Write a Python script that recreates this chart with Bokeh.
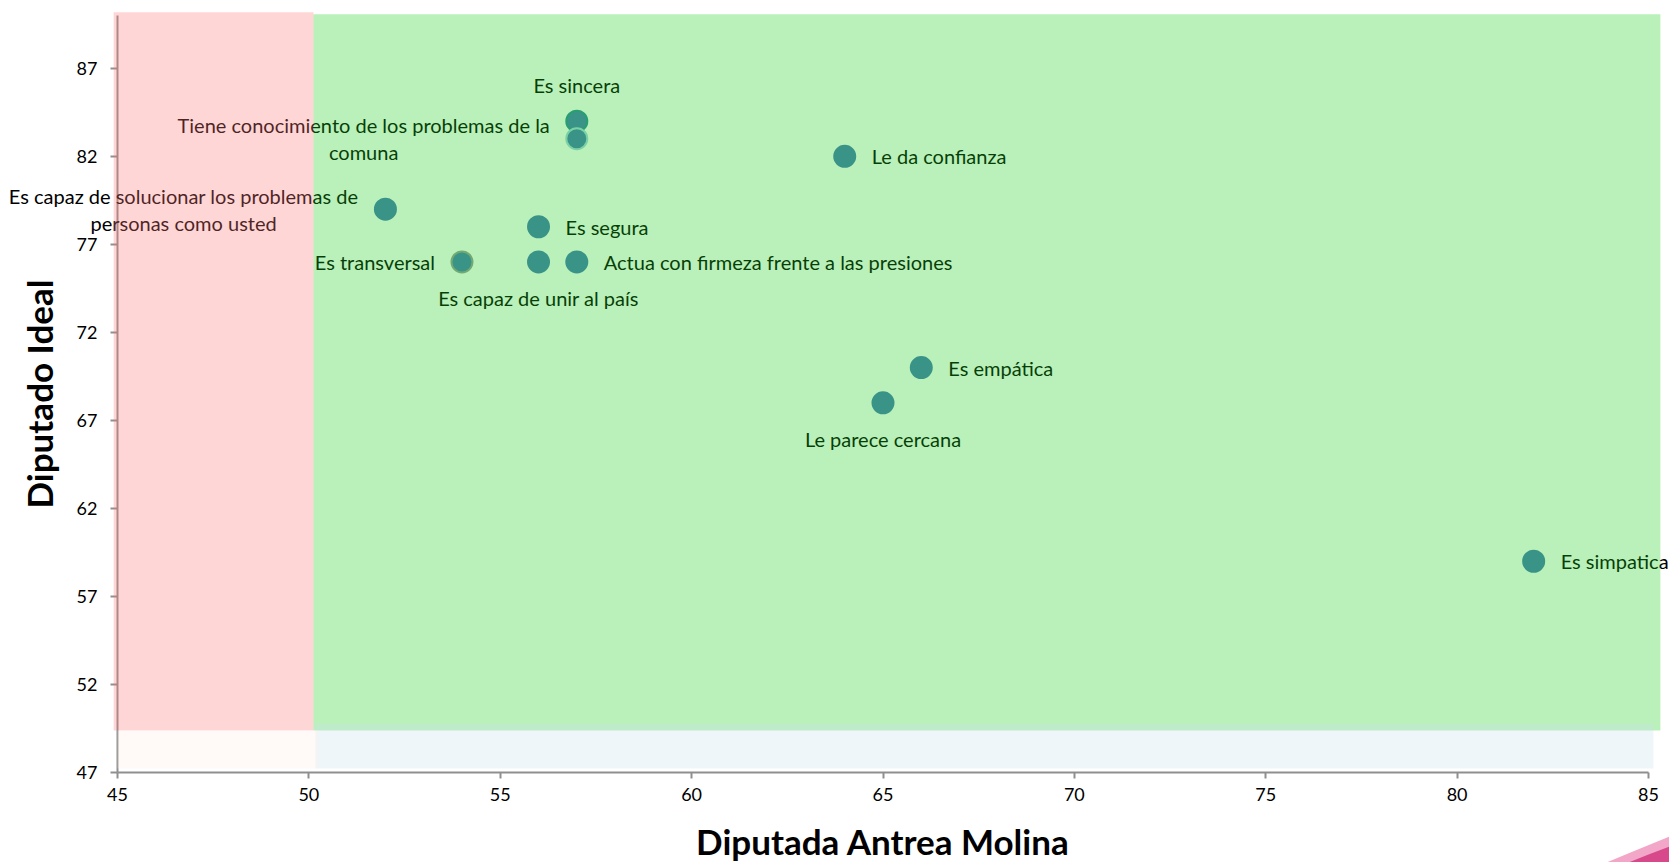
from bokeh.plotting import figure
from bokeh.models import Range1d, FixedTicker, BoxAnnotation, Label
from bokeh.embed import file_html
from bokeh.resources import INLINE

# ---------------- data ----------------
attributes = [
    "Es sincera",
    "Tiene conocimiento de los problemas de la\ncomuna",
    "Le da confianza",
    "Es capaz de solucionar los problemas de\npersonas como usted",
    "Es segura",
    "Es transversal",
    "Es capaz de unir al país",
    "Actua con firmeza frente a las presiones",
    "Es empática",
    "Le parece cercana",
    "Es simpatica",
]
diputada_molina = [57, 57, 64, 52, 56, 54, 56, 57, 66, 65, 82]
diputado_ideal = [84, 83, 82, 79, 78, 76, 76, 76, 70, 68, 59]
label_side = ["above", "left", "right", "left", "right", "left",
              "below", "right", "right", "below", "right"]

x_ticks = [45, 50, 55, 60, 65, 70, 75, 80, 85]
y_ticks = [47, 52, 57, 62, 67, 72, 77, 82, 87]
x_limits = (45, 85)
y_limits = (47, 90)

FONT = "Lato"
POINT = "#477CB6"
# marker outline styles (some markers carry a lighter / grey rim in the original)
outline_colors = ["#2F8A98", "#A6D2E2", POINT, POINT, POINT, "#9A9A9A",
                  POINT, POINT, POINT, POINT, POINT]

# ---------------- layout: the frame covers the whole canvas so that labels are
# never clipped; the axes are pinned at the data origin (45, 47)
W, H = 1669, 862
AX_LEFT, AX_RIGHT, AX_TOP, AX_BOTTOM = 117, 1648, 15, 772  # pixel positions of axis extents
sx = (AX_RIGHT - AX_LEFT) / (x_limits[1] - x_limits[0])
sy = (AX_BOTTOM - AX_TOP) / (y_limits[1] - y_limits[0])
x_range = Range1d(x_limits[0] - AX_LEFT / sx, x_limits[1] + (W - AX_RIGHT) / sx)
y_range = Range1d(y_limits[0] - (H - AX_BOTTOM) / sy, y_limits[1] + AX_TOP / sy)


def px_to_data(px, py):
    return x_limits[0] + (px - AX_LEFT) / sx, y_limits[0] + (AX_BOTTOM - py) / sy


p = figure(
    width=W, height=H, x_range=x_range, y_range=y_range,
    output_backend="svg", toolbar_location=None,
    min_border=0, min_border_left=0, min_border_right=0,
    min_border_top=0, min_border_bottom=0,
    background_fill_color="white", border_fill_color="white",
)
p.outline_line_color = None
p.grid.visible = False

for ax in (p.xaxis[0], p.yaxis[0]):
    ax.axis_line_color = "#8f8f8f"
    ax.axis_line_width = 2
    ax.major_tick_line_color = "#8f8f8f"
    ax.major_tick_line_width = 2
    ax.major_tick_in = 0
    ax.minor_tick_line_color = None
    ax.major_label_text_font = FONT
    ax.major_label_text_font_size = "18px"
    ax.major_label_text_color = "#000000"
    ax.axis_label_text_font = FONT
    ax.axis_label_text_font_size = "35px"
    ax.axis_label_text_font_style = "bold"
    ax.axis_label_text_color = "#000000"

p.xaxis.fixed_location = y_limits[0]
p.yaxis.fixed_location = x_limits[0]
p.xaxis.bounds = x_limits
p.yaxis.bounds = y_limits
p.xaxis.ticker = FixedTicker(ticks=x_ticks)
p.yaxis.ticker = FixedTicker(ticks=y_ticks)
p.xaxis.major_tick_out = 6
p.yaxis.major_tick_out = 7
p.xaxis.major_label_standoff = 9
p.yaxis.major_label_standoff = 13
p.xaxis.axis_label = "Diputada Antrea Molina"
p.yaxis.axis_label = "Diputado Ideal"
p.xaxis.axis_label_standoff = 16
p.yaxis.axis_label_standoff = 14

# ---------------- points ----------------
p.scatter(x=diputada_molina, y=diputado_ideal, size=21,
          fill_color=POINT, line_color=outline_colors, line_width=2)

# ---------------- labels ----------------
GAP = 27
VGAP = 35
for name, xv, yv, side in zip(attributes, diputada_molina, diputado_ideal, label_side):
    kw = dict(x=xv, y=yv, text=name, text_font=FONT, text_font_size="20px",
              text_color="#000000", text_line_height=1.12)
    if side == "right":
        kw.update(anchor="center_left", text_align="left", x_offset=GAP)
    elif side == "left":
        kw.update(anchor="center_right", text_align="center", x_offset=-GAP)
    elif side == "above":
        kw.update(anchor="center", text_align="center", y_offset=VGAP + 1)
    else:
        kw.update(anchor="center", text_align="center", y_offset=-VGAP - 1)
    p.add_layout(Label(**kw))

# ---------------- translucent zones drawn over everything ----------------
zones = [
    dict(left=44.9, right=50.12, bottom=49.39, top=90.18, color="#FF7676"),
    dict(left=50.12, right=85.31, bottom=49.39, top=90.07, color="#1CCD1C"),
    dict(left=50.17, right=85.13, bottom=47.23, top=49.78, color="#C6E1EB"),
    dict(left=45.0, right=50.25, bottom=47.23, top=49.39, color="#FFEEE7"),
]
for z in zones:
    p.add_layout(BoxAnnotation(left=z["left"], right=z["right"], bottom=z["bottom"], top=z["top"],
                               fill_color=z["color"], fill_alpha=0.3, line_color=None,
                               level="overlay"))

# ---------------- decorative pink swoosh in the bottom-right corner ----------------
sw_outer = [px_to_data(*pt) for pt in [(1606, 862), (1630, 852), (1652, 843), (1669, 836), (1669, 862)]]
sw_inner = [px_to_data(*pt) for pt in [(1628, 862), (1648, 854), (1669, 846), (1669, 862)]]
p.patch([a for a, b in sw_outer], [b for a, b in sw_outer], fill_color="#F2A7C8", line_color=None)
p.patch([a for a, b in sw_inner], [b for a, b in sw_inner], fill_color="#D8498C", line_color=None)

open("out.html", "w").write(file_html(p, INLINE))
